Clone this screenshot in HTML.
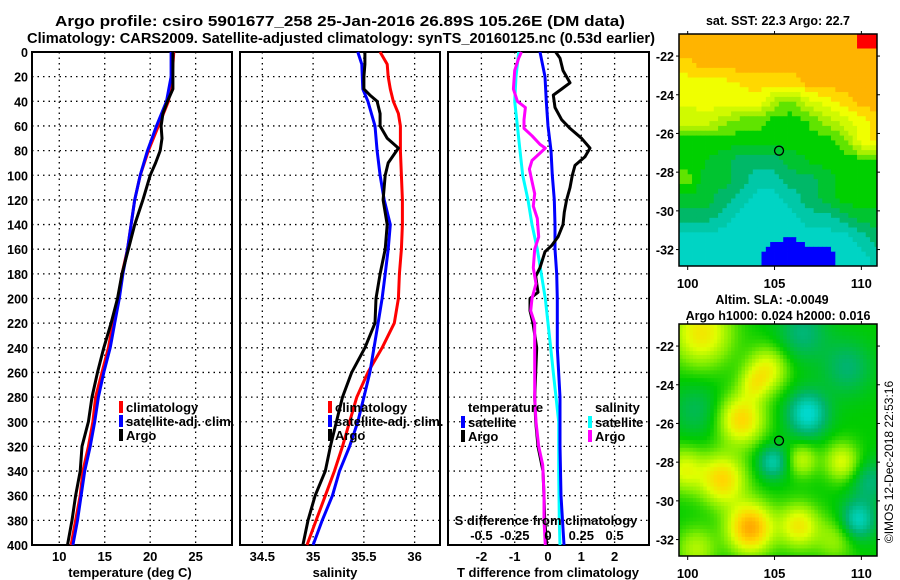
<!DOCTYPE html>
<html><head><meta charset="utf-8">
<style>
html,body{margin:0;padding:0;background:#fff;}
svg{display:block;font-family:"Liberation Sans",sans-serif;}
.b{font-weight:bold;}
</style></head>
<body>
<svg id="fig" width="900" height="580" viewBox="0 0 900 580" xmlns="http://www.w3.org/2000/svg">
<text class="b" x="340" y="26" font-size="14.5" text-anchor="middle" textLength="570" lengthAdjust="spacingAndGlyphs">Argo profile: csiro 5901677_258 25-Jan-2016 26.89S 105.26E (DM data)</text>
<text class="b" x="341" y="43" font-size="14.5" text-anchor="middle" textLength="628" lengthAdjust="spacingAndGlyphs">Climatology: CARS2009. Satellite-adjusted climatology: synTS_20160125.nc (0.53d earlier)</text>
<text class="b" x="778" y="25" font-size="12.5" text-anchor="middle">sat. SST: 22.3 Argo: 22.7</text>
<text class="b" x="772" y="304" font-size="12.5" text-anchor="middle">Altim. SLA: -0.0049</text>
<text class="b" x="778" y="320" font-size="12.5" text-anchor="middle">Argo h1000: 0.024 h2000: 0.016</text>
<text x="0" y="0" font-size="12" text-anchor="middle" transform="translate(893,462) rotate(-90)">©IMOS 12-Dec-2018 22:53:16</text>
<g id="layer"></g>
</svg>
<script>
// ---------- data ----------
const depthTicks = [0,20,40,60,80,100,120,140,160,180,200,220,240,260,280,300,320,340,360,380,400];
const tTicks = [10,15,20,25];
const sTicks = [34.5,35,35.5,36];
const dTTicks = [-2,-1,0,1,2];
const dSTicks = [-0.5,-0.25,0,0.25,0.5];
const dSTickLabels = ["-0.5","-0.25","0","0.25","0.5"];

const tArgoDepth = [0,10,20,30,35,40,50,60,70,80,90,100,120,140,160,180,200,220,240,260,280,300,320,340,360,380,400];
const tArgo = [22.5,22.5,22.5,22.5,22.2,21.9,21.4,21.2,21.3,21.1,20.6,20.0,19.2,18.3,17.6,16.9,16.4,15.7,14.9,14.2,13.6,13.2,12.5,12.3,11.8,11.4,10.9];
const climDepth = [0,20,40,60,80,100,120,140,160,180,200,220,240,260,280,300,320,340,360,380,400];
const tClim = [22.6,22.4,22.0,20.9,19.8,18.9,18.3,17.9,17.5,16.9,16.5,15.9,15.4,14.7,14.0,13.7,13.2,12.6,12.3,11.8,11.3];
const tSat = [22.3,22.3,21.8,20.7,19.7,18.9,18.3,17.9,17.5,17.0,16.6,16.1,15.6,14.9,14.3,13.9,13.4,12.8,12.4,12.0,11.5];

const sArgoDepth = [0,10,20,30,35,40,50,60,70,78,90,100,120,140,160,180,200,220,240,260,280,300,320,340,360,380,400];
const sArgo = [35.51,35.51,35.50,35.50,35.56,35.63,35.66,35.66,35.73,35.84,35.74,35.71,35.69,35.73,35.71,35.66,35.62,35.61,35.51,35.38,35.29,35.23,35.17,35.12,35.02,34.95,34.90];
const sClimDepth = [0,10,20,30,40,50,60,80,100,120,140,160,180,200,220,240,260,280,300,320,340,360,380,400];
const sClim = [35.66,35.73,35.74,35.76,35.79,35.84,35.86,35.86,35.87,35.88,35.88,35.87,35.85,35.84,35.80,35.68,35.54,35.43,35.36,35.29,35.21,35.12,35.03,34.94];
const sSatDepth = [0,10,30,40,60,80,100,120,140,160,180,200,220,240,260,280,300,320,340,360,380,400];
const sSat = [35.44,35.48,35.49,35.54,35.61,35.63,35.66,35.70,35.76,35.74,35.71,35.68,35.64,35.60,35.56,35.50,35.44,35.36,35.26,35.19,35.09,35.00];

const dTArgoDepth = [0,5,15,25,30,35,45,55,62,70,78,85,92,100,110,120,130,140,150,157,162,175,182,195,200,210,220,240,260,280,300,320,340,360,380,400];
const dTArgo = [0.23,0.36,0.45,0.66,0.41,0.16,0.21,0.41,0.66,1.01,1.26,1.11,0.81,0.73,0.66,0.56,0.49,0.45,0.30,0.11,-0.09,-0.24,-0.37,-0.30,-0.54,-0.54,-0.45,-0.34,-0.37,-0.40,-0.37,-0.30,-0.15,-0.12,-0.10,-0.04];
const dTSatDepth = [0,20,40,60,80,100,120,140,160,180,200,240,280,320,360,400];
const dTSat = [-0.24,-0.09,-0.05,0,0.09,0.13,0.19,0.21,0.21,0.26,0.28,0.28,0.36,0.36,0.39,0.48];
const dSSatDepth = [0,20,40,60,80,100,120,140,160,180,200,220,240,260,280,300,340,380,400];
const dSSat = [-0.22,-0.24,-0.25,-0.23,-0.21,-0.19,-0.15,-0.12,-0.08,-0.05,-0.02,0,0.02,0.04,0.06,0.08,0.08,0.085,0.09];
const dSArgoDepth = [0,5,15,30,40,45,55,62,68,75,78,82,88,95,105,115,125,135,150,160,175,188,200,210,220,240,260,280,300,320,335,360,380,400];
const dSArgo = [-0.20,-0.22,-0.25,-0.26,-0.23,-0.17,-0.18,-0.18,-0.12,-0.06,-0.02,-0.06,-0.12,-0.14,-0.12,-0.10,-0.11,-0.08,-0.07,-0.10,-0.11,-0.09,-0.12,-0.13,-0.10,-0.10,-0.10,-0.10,-0.09,-0.07,-0.04,-0.03,-0.03,-0.02];

// SST map: class values on 1-degree grid (rows lat -21.4..-32.4, cols lon 100..111)
const sstLats = [-21.4,-22.4,-23.4,-24.4,-25.4,-26.4,-27.4,-28.4,-29.4,-30.4,-31.4,-32.4];
const sstLons = [100,101,102,103,104,105,106,107,108,109,110,111];
const sstGrid = [
 [5,5,5,5,5,5,5,5,5,5,6,6],
 [4.6,5,5,5,5,5,5,5,5,5,5,5],
 [4,4,4,4.3,4.5,4.5,4.5,5,5,5,5,5],
 [3.8,4,4,4,4,3,2.5,3.5,4,4.5,5,5],
 [3.5,3.5,3,2.5,2.5,2,2,2.3,3,3.5,4,4.5],
 [2,2,2,2,2,2,2,2,2,2.5,4,4.5],
 [2,1.8,1.5,1,1,1,1.5,1.8,2,2,2,2],
 [2.5,1.5,1.5,1,0.5,0.5,1,1,1.5,2,2,2],
 [1.5,1.5,1,0.5,0,0,0.5,1,1.5,2,2,2],
 [1,1,0.5,0,0,0,0,0.5,0.5,1,1.5,1.5],
 [0,0,0,0,0,0,-0.3,0,0,0,0.5,1],
 [0,0,0,0,0,-1,-1,-0.6,-0.6,0,0,0.5]
];
const sstClassColors = ["#0000ff","#0000ff","#00d4c4","#00c8a8","#00b868","#00c430","#00d000","#60e400","#a8f000","#d0fa00","#f0ff00","#ffd800","#ffb400","#ffb400","#ff0000"];

// SLA map anomaly blobs
const blobLon = [100.8,103.1,104.6,102.0,99.8,103.6,106.4,106.6,108.9,100.5,108.5,106.9,104.9,109.8,109.2,106.6,100.5,110.5,103.8];
const blobLat = [-21.3,-25.8,-23.2,-28.9,-28.4,-31.4,-31.3,-27.9,-28.0,-32.5,-32.0,-25.5,-28.0,-31.0,-23.1,-21.3,-25.3,-29.0,-24.0];
const blobAmp = [2.6,3.0,2.2,3.0,2.0,4.0,2.5,1.6,2.0,1.5,1.2,-2.6,-2.0,-2.3,-1.2,-1.3,-0.9,-1.3,1.5];
const blobRad = [1.2,0.9,0.8,0.9,0.8,0.9,0.8,0.6,0.7,0.8,0.8,0.8,0.6,0.7,1.0,1.0,1.0,0.8,0.6];
const markerLon = 105.26, markerLat = -26.89;

// ---------- helpers ----------
const NS = "http://www.w3.org/2000/svg";
const layer = document.getElementById("layer");
function mk(tag, attrs, parent) {
  const e = document.createElementNS(NS, tag);
  for (const k in attrs) e.setAttribute(k, attrs[k]);
  (parent || layer).appendChild(e);
  return e;
}
const Y0 = 52, Y1 = 545;
const yD = d => Y0 + d * (Y1 - Y0) / 400;
function lin(d0, d1, p0, p1) { return v => p0 + (v - d0) * (p1 - p0) / (d1 - d0); }

function panel(name, x0, x1, xs, ticks, labels, showY) {
  const g = mk("g", {});
  
  
  ticks.forEach(t => {
    const l = mk("line", {x1: xs(t), x2: xs(t), y1: Y0, y2: Y1, stroke: "#000", "stroke-width": 1.3, "stroke-dasharray": "1.5,4"}, g);
    
    
  });
  depthTicks.forEach(d => {
    if (d > 0 && d < 400) {
      const l = mk("line", {x1: x0, x2: x1, y1: yD(d), y2: yD(d), stroke: "#000", "stroke-width": 1.3, "stroke-dasharray": "1.5,4"}, g);
      
      
    }
    if (showY) {
      const t = mk("text", {x: x0 - 4, y: yD(d) + 5, "font-size": 12.5, "font-weight": "bold", "text-anchor": "end"}, g);
      
      
      t.textContent = d;
    }
  });
  ticks.forEach((t, i) => {
    const tx = mk("text", {x: xs(t), y: 561, "font-size": 13, "font-weight": "bold", "text-anchor": "middle"}, g);
    
    
    tx.textContent = labels[i];
  });
  const f = mk("rect", {x: x0, y: Y0, width: x1 - x0, height: Y1 - Y0, fill: "none", stroke: "#000", "stroke-width": 2}, g);
  
  
  return g;
}
function series(g, name, depths, vals, xs, color) {
  const pts = depths.map((d, i) => xs(vals[i]).toFixed(1) + "," + yD(d).toFixed(1)).join(" ");
  const p = mk("polyline", {points: pts, fill: "none", stroke: color, "stroke-width": 3, "stroke-linejoin": "round"}, g);
  
  
}
function legend(g, x, y, color, label, name) {
  const r = mk("rect", {x: x, y: y - 11, width: 4, height: 12, fill: color}, g);
  
  
  const t = mk("text", {x: x + 7, y: y, "font-size": 13, "font-weight": "bold"}, g);
  
  
  t.textContent = label;
}
function axisTitle(x, text, name) {
  const t = mk("text", {x: x, y: 577, "font-size": 13, "font-weight": "bold", "text-anchor": "middle"});
  
  
  t.textContent = text;
}

// ---------- panel 1: temperature ----------
const xT = lin(7, 29, 32, 232);
const g1 = panel("temperature-panel", 32, 232, xT, tTicks, tTicks.map(String), true);
series(g1, "temperature-climatology-line", climDepth, tClim, xT, "#ff0000");
series(g1, "temperature-satellite-line", climDepth, tSat, xT, "#0000ff");
series(g1, "temperature-argo-line", tArgoDepth, tArgo, xT, "#000000");
legend(g1, 119, 412, "#ff0000", "climatology", "legend-climatology");
legend(g1, 119, 426, "#0000ff", "satellite-adj. clim.", "legend-satellite");
legend(g1, 119, 440, "#000000", "Argo", "legend-argo");
axisTitle(130, "temperature (deg C)", "temperature-axis-title");

// ---------- panel 2: salinity ----------
const xS = lin(34.28, 36.25, 240, 440);
const g2 = panel("salinity-panel", 240, 440, xS, sTicks, sTicks.map(String), false);
series(g2, "salinity-climatology-line", sClimDepth, sClim, xS, "#ff0000");
series(g2, "salinity-satellite-line", sSatDepth, sSat, xS, "#0000ff");
series(g2, "salinity-argo-line", sArgoDepth, sArgo, xS, "#000000");
legend(g2, 328, 412, "#ff0000", "climatology", "legend-climatology");
legend(g2, 328, 426, "#0000ff", "satellite-adj. clim.", "legend-satellite");
legend(g2, 328, 440, "#000000", "Argo", "legend-argo");
axisTitle(335, "salinity", "salinity-axis-title");

// ---------- panel 3: differences ----------
const xdT = lin(0, 1, 548, 581.3);
const xdS = lin(0, 0.25, 548, 581.3);
const g3 = panel("difference-panel", 448, 649, xdT, dTTicks, dTTicks.map(String), false);
series(g3, "salinity-diff-satellite-line", dSSatDepth, dSSat, xdS, "#00ffff");
series(g3, "temperature-diff-satellite-line", dTSatDepth, dTSat, xdT, "#0000ff");
series(g3, "temperature-diff-argo-line", dTArgoDepth, dTArgo, xdT, "#000000");
series(g3, "salinity-diff-argo-line", dSArgoDepth, dSArgo, xdS, "#ff00ff");
(function(){
  const t = mk("text", {x: 468, y: 412, "font-size": 13, "font-weight": "bold"}, g3);
  
  
  t.textContent = "temperature";
  const s = mk("text", {x: 595, y: 412, "font-size": 13, "font-weight": "bold"}, g3);
  
  
  s.textContent = "salinity";
})();
legend(g3, 461, 427, "#0000ff", "satellite", "legend-t-satellite");
legend(g3, 461, 441, "#000000", "Argo", "legend-t-argo");
legend(g3, 588, 427, "#00ffff", "satellite", "legend-s-satellite");
legend(g3, 588, 441, "#ff00ff", "Argo", "legend-s-argo");
(function(){
  const t = mk("text", {x: 546, y: 525, "font-size": 13, "font-weight": "bold", "text-anchor": "middle"}, g3);
  
  
  t.textContent = "S difference from climatology";
  dSTicks.forEach((v, i) => {
    const l = mk("text", {x: xdS(v), y: 540, "font-size": 13, "font-weight": "bold", "text-anchor": "middle"}, g3);
    
    
    l.textContent = dSTickLabels[i];
  });
})();
axisTitle(548, "T difference from climatology", "temperature-diff-axis-title");

// ---------- maps ----------
const MX0 = 679, MX1 = 877;
const xLon = lin(99.5, 110.9, MX0, MX1);
const latTicks = [-22,-24,-26,-28,-30,-32];
const lonTicks = [100,105,110];
function mapFrame(g, top, name) {
  const yLat = lin(-20.86, -32.85, top, top + 232);
  latTicks.forEach(l => {
    const t = mk("text", {x: 674, y: yLat(l) + 5, "font-size": 12.5, "font-weight": "bold", "text-anchor": "end"}, g);
    
    
    t.textContent = l;
    mk("line", {x1: MX0 - 3, x2: MX0, y1: yLat(l), y2: yLat(l), stroke: "#000", "stroke-width": 1}, g);
    mk("line", {x1: MX1, x2: MX1 + 3, y1: yLat(l), y2: yLat(l), stroke: "#000", "stroke-width": 1}, g);
  });
  lonTicks.forEach(l => {
    const t = mk("text", {x: xLon(l), y: top + 254, "font-size": 13, "font-weight": "bold", "text-anchor": "middle"}, g);
    
    
    t.textContent = l;
    mk("line", {x1: xLon(l), x2: xLon(l), y1: top - 3, y2: top, stroke: "#000", "stroke-width": 1}, g);
    mk("line", {x1: xLon(l), x2: xLon(l), y1: top + 232, y2: top + 236, stroke: "#000", "stroke-width": 1}, g);
  });
  const c = mk("circle", {cx: xLon(markerLon), cy: yLat(markerLat), r: 4.5, fill: "none", stroke: "#000", "stroke-width": 1.3}, g);
  
  
  const f = mk("rect", {x: MX0, y: top, width: MX1 - MX0, height: 232, fill: "none", stroke: "#000", "stroke-width": 1.5}, g);
  
  
  return yLat;
}
function interpGrid(lon, lat) {
  let fi = (lon - sstLons[0]) / 1, fj = (sstLats[0] - lat) / 1;
  fi = Math.max(0, Math.min(sstLons.length - 1.001, fi));
  fj = Math.max(0, Math.min(sstLats.length - 1.001, fj));
  const i = Math.floor(fi), j = Math.floor(fj), a = fi - i, b = fj - j;
  return sstGrid[j][i]*(1-a)*(1-b) + sstGrid[j][i+1]*a*(1-b) + sstGrid[j+1][i]*(1-a)*b + sstGrid[j+1][i+1]*a*b;
}
// SST map
(function(){
  const g = mk("g", {});
  
  
  const top = 34, yLat = lin(-20.86, -32.85, top, top + 232);
  const step = 0.25;
  for (let lat = -20.86; lat > -32.85; lat -= step) {
    for (let lon = 99.5; lon < 110.9; lon += step) {
      const v = interpGrid(lon + step/2, lat - step/2);
      const k = Math.max(0, Math.min(sstClassColors.length - 1, Math.round(v * 2) + 2));
      const x = xLon(lon), y = yLat(lat);
      mk("rect", {x: x.toFixed(2), y: y.toFixed(2), width: (xLon(Math.min(lon + step, 110.9)) - x + 0.4).toFixed(2), height: (yLat(Math.max(lat - step, -32.85)) - y + 0.4).toFixed(2), fill: sstClassColors[k]}, g);
    }
  }
  mapFrame(g, top, "sst-map");
})();
// SLA map
function slaColor(v) {
  const stops = [[-2.5,[0,216,204]],[-1.2,[0,180,110]],[0,[0,204,0]],[1,[130,238,0]],[2,[222,255,0]],[3,[255,216,0]],[4,[255,170,0]]];
  if (v <= stops[0][0]) return "rgb(" + stops[0][1] + ")";
  for (let i = 0; i < stops.length - 1; i++) {
    const [a, ca] = stops[i], [b, cb] = stops[i + 1];
    if (v <= b) { const t = (v - a) / (b - a); return "rgb(" + ca.map((c, k) => Math.round(c + (cb[k] - c) * t)).join(",") + ")"; }
  }
  return "rgb(" + stops[stops.length - 1][1] + ")";
}
(function(){
  const g = mk("g", {});
  
  
  const top = 324, yLat = lin(-20.86, -32.85, top, top + 232);
  const step = 0.2;
  for (let lat = -20.86; lat > -32.85; lat -= step) {
    for (let lon = 99.5; lon < 110.9; lon += step) {
      const cl = lon + step/2, ct = lat - step/2;
      let v = 0;
      for (let b = 0; b < blobLon.length; b++) {
        const dx = cl - blobLon[b], dy = ct - blobLat[b];
        v += blobAmp[b] * Math.exp(-(dx*dx + dy*dy) / (2 * blobRad[b] * blobRad[b]));
      }
      const x = xLon(lon), y = yLat(lat);
      mk("rect", {x: x.toFixed(2), y: y.toFixed(2), width: (xLon(Math.min(lon + step, 110.9)) - x + 0.4).toFixed(2), height: (yLat(Math.max(lat - step, -32.85)) - y + 0.4).toFixed(2), fill: slaColor(v)}, g);
    }
  }
  mapFrame(g, top, "sla-map");
})();
</script>
</body></html>
